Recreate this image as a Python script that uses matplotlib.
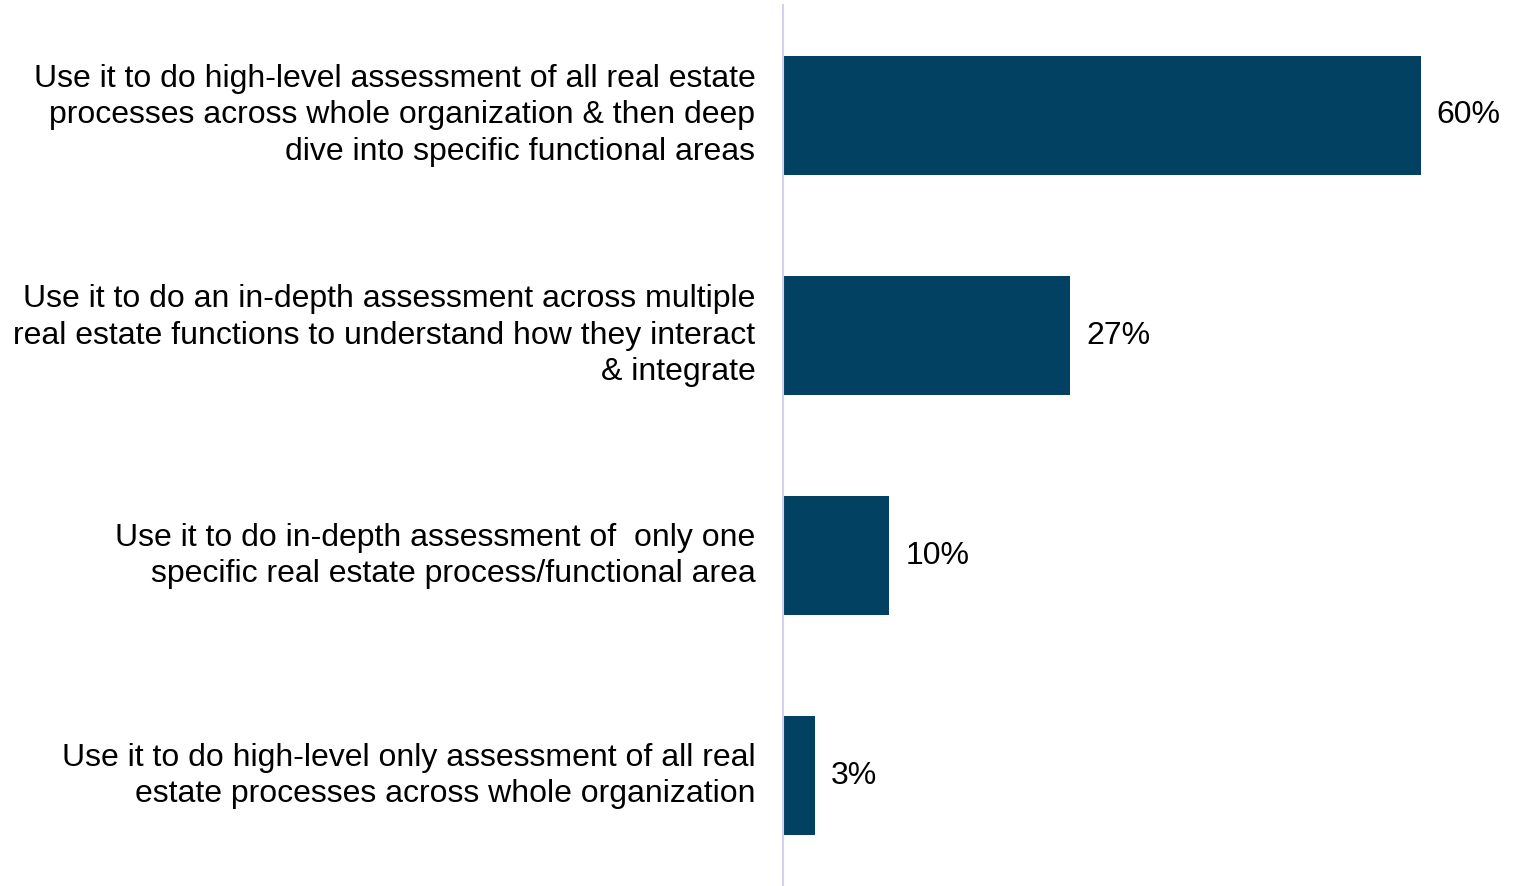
import matplotlib.pyplot as plt

plt.rcParams['font.family'] = ['Liberation Sans', 'DejaVu Sans']

labels = [
    "Use it to do high-level assessment of all real estate\nprocesses across whole organization & then deep\ndive into specific functional areas",
    "Use it to do an in-depth assessment across multiple\nreal estate functions to understand how they interact\n& integrate",
    "Use it to do in-depth assessment of  only one\nspecific real estate process/functional area",
    "Use it to do high-level only assessment of all real\nestate processes across whole organization",
]
values = [60, 27, 10, 3]

bar_color = '#024161'

fig = plt.figure(figsize=(15.27, 8.86), dpi=100)
ax = fig.add_axes([0.5128, 0.0, 0.4872, 0.994])

pos = list(range(len(values)))
ax.barh(pos, values, height=0.54, color=bar_color)

# percentage labels just past the end of each bar
for p, v in zip(pos, values):
    ax.text(v + 1.5, p, f"{v}%", va='center', ha='left', fontsize=23, color='black')

ax.set_yticks(pos)
ax.set_yticklabels(labels, fontsize=23, linespacing=1.27, va='center')
ax.tick_params(axis='y', length=0, pad=20)
ax.set_xticks([])
ax.set_xlim(0, 70)
ax.set_ylim(3.5, -0.5)

for side in ['top', 'right', 'bottom']:
    ax.spines[side].set_visible(False)
ax.spines['left'].set_color('#d2d2ee')
ax.spines['left'].set_linewidth(1.5)

fig.savefig("out.png", dpi=100)
